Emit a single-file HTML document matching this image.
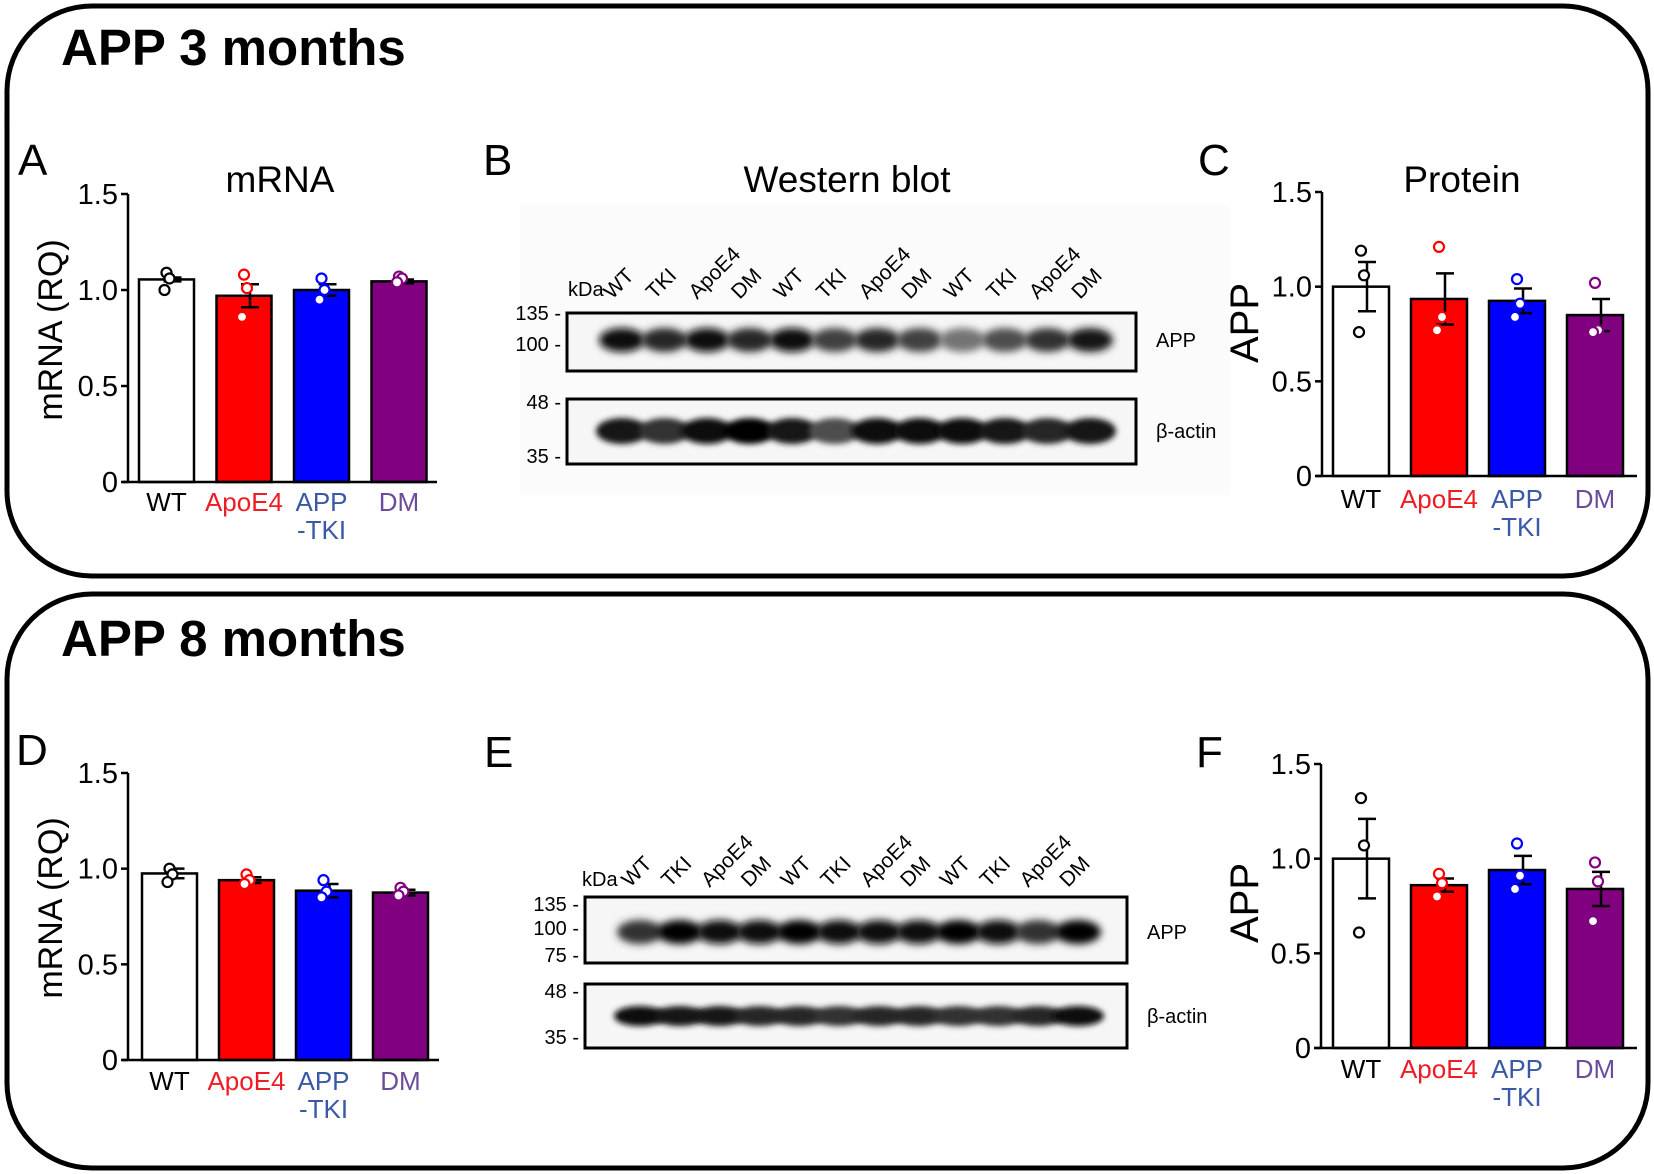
<!DOCTYPE html>
<html><head><meta charset="utf-8"><style>
html,body{margin:0;padding:0;background:#fff;}
svg{display:block;font-family:"Liberation Sans",Arial,sans-serif;}
</style></head><body>
<svg id="fig" width="1654" height="1174" viewBox="0 0 1654 1174" xmlns="http://www.w3.org/2000/svg">
<defs>
<filter id="blur3" x="-50%" y="-100%" width="200%" height="300%"><feGaussianBlur stdDeviation="4"/></filter>
<filter id="blur2" x="-50%" y="-100%" width="200%" height="300%"><feGaussianBlur stdDeviation="3"/></filter>
</defs>
<rect x="7" y="6" width="1641" height="570" rx="85" ry="85" fill="none" stroke="#000" stroke-width="5"/>
<rect x="7" y="594" width="1641" height="574" rx="85" ry="85" fill="none" stroke="#000" stroke-width="5"/>
<text x="61" y="65" font-size="51" font-weight="bold">APP 3 months</text>
<text x="61" y="656" font-size="51" font-weight="bold">APP 8 months</text>
<g id="charts"></g>
<g id="blots"></g>
</svg>
<script>
// ---- data ----
const categories = ["WT","ApoE4","APP-TKI","DM"];
const yTicks = [0, 0.5, 1.0, 1.5];
const yTickLabels = ["0","0.5","1.0","1.5"];
const meansA = [1.055, 0.97, 1.0, 1.045];
const semA = [0.01, 0.06, 0.03, 0.01];
const ptsA = [[1.09,1.06,1.0],[1.08,1.01,0.86],[1.06,1.0,0.95],[1.07,1.06,1.04]];
const meansC = [1.0, 0.935, 0.925, 0.85];
const semC = [0.13, 0.135, 0.065, 0.085];
const ptsC = [[1.19,1.06,0.76],[1.21,0.84,0.77],[1.04,0.91,0.84],[1.02,0.77,0.76]];
const meansD = [0.975, 0.94, 0.885, 0.875];
const semD = [0.025, 0.015, 0.035, 0.015];
const ptsD = [[1.0,0.97,0.93],[0.97,0.94,0.92],[0.94,0.88,0.85],[0.90,0.88,0.86]];
const meansF = [1.0, 0.86, 0.94, 0.84];
const semF = [0.21, 0.035, 0.075, 0.09];
const ptsF = [[1.32,1.07,0.61],[0.92,0.87,0.80],[1.08,0.91,0.84],[0.98,0.88,0.67]];
const laneLabels = ["WT","TKI","ApoE4","DM","WT","TKI","ApoE4","DM","WT","TKI","ApoE4","DM"];
const appIntensityB = [0.95,0.85,0.95,0.85,0.95,0.75,0.85,0.75,0.55,0.7,0.8,0.9];
const actinIntensityB = [0.9,0.8,0.95,1.0,0.9,0.7,0.95,0.95,0.95,0.9,0.85,0.9];
const appIntensityE = [0.8,1.0,0.95,0.95,1.0,0.95,0.95,0.95,1.0,0.95,0.8,1.0];
const actinIntensityE = [0.95,0.9,0.9,0.85,0.85,0.8,0.85,0.85,0.8,0.8,0.85,0.95];

const NS = "http://www.w3.org/2000/svg";
const fillColors = ["#ffffff","#ff0000","#0000ff","#800080"];
const strokePts = ["#000000","#ff0000","#0000ff","#800080"];
const labelColors = ["#000000","#ee1c25","#3a58a8","#6b4c9a"];
function el(tag, attrs, parent){ const e=document.createElementNS(NS,tag); for(const k in attrs) e.setAttribute(k,attrs[k]); parent.appendChild(e); return e; }

function chart(cfg, means, sem, pts){
  const g = el("g",{},document.getElementById("charts"));
  
  
  const y = v => cfg.y0 - (v/1.5)*(cfg.y0-cfg.y15);
  const bx = i => cfg.bx0 + i*cfg.step;
  const L = el("text",{x:cfg.lx,y:cfg.ly,"font-size":44},g); L.textContent=cfg.letter;
  
  
  if(cfg.title){ const t=el("text",{x:cfg.tx,y:cfg.ty,"font-size":37,"text-anchor":"middle"},g); t.textContent=cfg.title;
    
     }
  const yl = el("text",{x:0,y:0,"font-size":cfg.ylfs,"text-anchor":"middle",transform:`translate(${cfg.ylx},${cfg.yly}) rotate(-90)`},g);
  yl.textContent = cfg.ylabel;
  
  
  means.forEach((m,i)=>{
    const r = el("rect",{x:bx(i),y:y(m),width:cfg.w,height:y(0)-y(m),fill:fillColors[i],stroke:"#000","stroke-width":2.5},g);
    
    
  });
  means.forEach((m,i)=>{
    const cx = bx(i)+cfg.w/2+6;
    const ln = el("path",{d:`M${cx},${y(m-sem[i])}V${y(m+sem[i])}M${cx-9},${y(m+sem[i])}h18M${cx-9},${y(m-sem[i])}h18`,stroke:"#000","stroke-width":2.5,fill:"none"},g);
    
    
  });
  pts.forEach((arr,i)=>{
    arr.forEach((v,j)=>{
      const cx = bx(i)+cfg.w/2 + (j===1?3:(j===0?0:-2));
      const c = el("circle",{cx:cx,cy:y(v),r:5,fill:"#fff",stroke:strokePts[i],"stroke-width":2.2},g);
      
      
    });
  });
  const ax = el("path",{d:`M${cfg.ax},${y(1.5)}V${y(0)}M${cfg.ax-6},${y(0)}H${cfg.xend}`,stroke:"#000","stroke-width":2.5,fill:"none"},g);
  
  
  yTicks.forEach((t,k)=>{
    const tk = el("line",{x1:cfg.ax-7,x2:cfg.ax,y1:y(t),y2:y(t),stroke:"#000","stroke-width":2.5},g);
    
    
    const tl = el("text",{x:cfg.ax-10,y:y(t)+10,"font-size":29,"text-anchor":"end"},g);
    tl.textContent = yTickLabels[k];
    
    
  });
  categories.forEach((c,i)=>{
    const cx = bx(i)+cfg.w/2;
    const t = el("text",{x:cx,y:cfg.lb,"font-size":26,"text-anchor":"middle",fill:labelColors[i]},g);
    
    
    if(c==="APP-TKI"){ t.textContent="APP"; const t2=el("text",{x:cx,y:cfg.lb+28,"font-size":26,"text-anchor":"middle",fill:labelColors[i]},g); t2.textContent="-TKI";
      
       }
    else t.textContent=c;
  });
}
chart({name:"chart-a-mrna",letter:"A",lx:18,ly:175,title:"mRNA",tx:280,ty:192,ylabel:"mRNA (RQ)",ylfs:34,ylx:62,yly:330,ax:128,y0:482,y15:194,bx0:139,step:77.5,w:55,xend:437,lb:511},meansA,semA,ptsA);
chart({name:"chart-c-protein",letter:"C",lx:1198,ly:175,title:"Protein",tx:1462,ty:192,ylabel:"APP",ylfs:40,ylx:1258,yly:323,ax:1322,y0:476,y15:192,bx0:1333,step:78,w:56,xend:1637,lb:508},meansC,semC,ptsC);
chart({name:"chart-d-mrna",letter:"D",lx:16,ly:765,title:"",ylabel:"mRNA (RQ)",ylfs:34,ylx:62,yly:908,ax:128,y0:1060,y15:773,bx0:142,step:77,w:55,xend:439,lb:1090},meansD,semD,ptsD);
chart({name:"chart-f-protein",letter:"F",lx:1196,ly:767,title:"",ylabel:"APP",ylfs:40,ylx:1258,yly:903,ax:1321,y0:1048,y15:764,bx0:1333,step:78,w:56,xend:1637,lb:1078},meansF,semF,ptsF);

function blot(cfg, appI, actI){
  const g = el("g",{},document.getElementById("blots"));
  
  
  const L = el("text",{x:cfg.lx,y:cfg.ly,"font-size":44},g); L.textContent=cfg.letter;
  
  
  if(cfg.title){ const t=el("text",{x:cfg.tx,y:cfg.ty,"font-size":37,"text-anchor":"middle"},g); t.textContent=cfg.title;
    
     }
  if(cfg.bg){ const b=el("rect",{x:cfg.bg[0],y:cfg.bg[1],width:cfg.bg[2],height:cfg.bg[3],fill:"#fbfbfb"},g);
    
     }
  const lane = i => cfg.l0 + i*(cfg.l1-cfg.l0)/11;
  [cfg.app, cfg.act].forEach((bx,k)=>{
    const r = el("rect",{x:cfg.x0,y:bx[0],width:cfg.x1-cfg.x0,height:bx[1]-bx[0],fill:"#f6f6f6"},g);
    
    
  });
  appI.forEach((v,i)=>{
    const s = Math.round(255*(1-v));
    const e = el("ellipse",{cx:lane(i),cy:cfg.appBand,rx:23,ry:cfg.appRy,fill:`rgb(${s},${s},${s})`,filter:"url(#blur3)"},g);
    
    
  });
  actI.forEach((v,i)=>{
    const s = Math.round(255*(1-v));
    const e = el("ellipse",{cx:lane(i),cy:cfg.actBand,rx:26,ry:cfg.actRy,fill:`rgb(${s},${s},${s})`,filter:"url(#blur2)"},g);
    
    
  });
  [cfg.app, cfg.act].forEach(bx=>{
    const r = el("rect",{x:cfg.x0,y:bx[0],width:cfg.x1-cfg.x0,height:bx[1]-bx[0],fill:"none",stroke:"#000","stroke-width":3},g);
    
    
  });
  cfg.markers.forEach(m=>{
    const t = el("text",{x:cfg.x0-6,y:m[1]+7,"font-size":20,"text-anchor":"end"},g);
    t.textContent = m[0]+" -";
    
    
  });
  const k = el("text",{x:cfg.kx,y:cfg.ky,"font-size":20},g); k.textContent="kDa";
  
  
  laneLabels.forEach((s,i)=>{
    const t = el("text",{x:0,y:0,"font-size":21,transform:`translate(${lane(i)-10},${cfg.labY}) rotate(-45)`},g);
    t.textContent = s;
    
    
  });
  const a = el("text",{x:cfg.x1+20,y:cfg.appBand+7,"font-size":20},g); a.textContent="APP";
  
  
  const b = el("text",{x:cfg.x1+20,y:cfg.actBand+7,"font-size":20},g); b.textContent="β-actin";
  
  
}
blot({name:"blot-b",letter:"B",lx:483,ly:175,title:"Western blot",tx:847,ty:192,bg:[520,205,710,290],
  x0:567,x1:1136,app:[313,371],act:[399,464],l0:622,l1:1090,appBand:340,appRy:12,actBand:431,actRy:13,
  markers:[["135",313],["100",344],["48",402],["35",456]],kx:568,ky:296,labY:300},appIntensityB,actinIntensityB);
blot({name:"blot-e",letter:"E",lx:484,ly:767,title:"",bg:null,
  x0:585,x1:1127,app:[897,963],act:[984,1048],l0:640,l1:1078,appBand:932,appRy:12,actBand:1016,actRy:10,
  markers:[["135",904],["100",928],["75",955],["48",991],["35",1037]],kx:582,ky:886,labY:888},appIntensityE,actinIntensityE);
</script>
</body></html>
